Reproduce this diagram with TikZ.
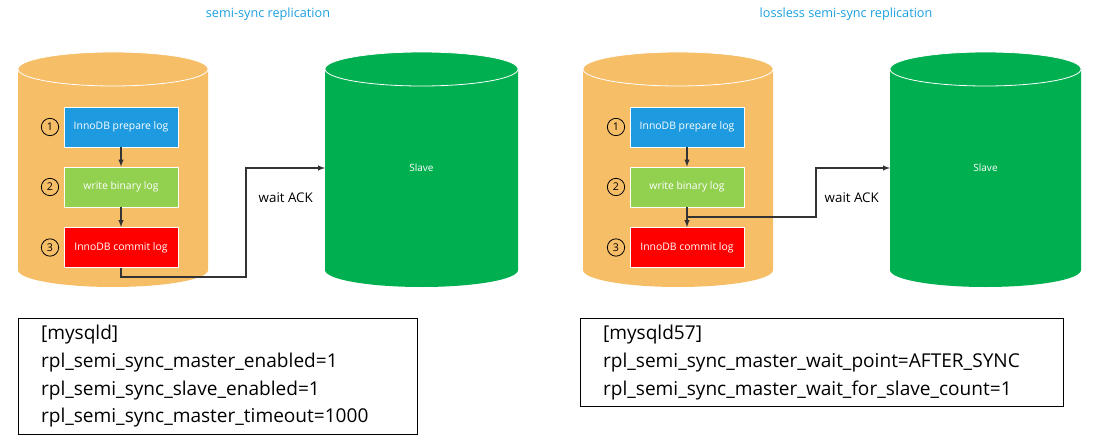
\documentclass[tikz,border=0pt]{standalone}
\usepackage{fontspec}
\setmainfont{Open Sans}
\definecolor{org}{HTML}{F7BE68}
\definecolor{grn}{HTML}{00B050}
\definecolor{blu}{HTML}{1E9BE0}
\definecolor{lgr}{HTML}{92D050}
\definecolor{ttl}{HTML}{1AA0E0}
\begin{document}
\begin{tikzpicture}[x=0.75pt,y=-0.75pt,
  box/.style={draw=white,line width=0.6pt,minimum width=85.5pt,minimum height=30pt,text=white,font=\fontsize{7.8}{9}\selectfont,inner sep=0pt},
  num/.style={circle,draw=black,line width=0.6pt,minimum size=13pt,inner sep=0pt,font=\fontsize{8}{9}\selectfont},
  arr/.style={-latex,line width=0.8pt,draw=black!80},
  conf/.style={draw=black,line width=0.6pt,anchor=north west,align=left,font=\fontsize{14.3}{20.8}\selectfont,inner xsep=17pt,inner ysep=5pt}]
\useasboundingbox (0,0) rectangle (1106,435);
\newcommand\cyl[4]{% x1 x2 col name
  \pgfmathsetmacro\cx{(#1+#2)/2}\pgfmathsetmacro\rx{(#2-#1)/2}
  \fill[#3] (#1,69) -- (#1,270) arc[start angle=180,end angle=0,x radius=\rx,y radius=17] -- (#2,69) -- cycle;
  \draw[white,fill=#3,line width=0.6pt] (\cx,69) ellipse[x radius=\rx,y radius=17];
  \coordinate (#4) at (\cx,168);}
\cyl{18}{208}{org}{m1}
\cyl{325}{518}{grn}{s1}
\cyl{583}{773}{org}{m2}
\cyl{890}{1081}{grn}{s2}
\node[text=white,font=\fontsize{7.5}{9}\selectfont] (sl1) at (s1) {Slave};
\node[text=white,font=\fontsize{7.5}{9}\selectfont] (sl2) at (s2) {Slave};
\coordinate (s1w) at (325,168);
\coordinate (s2w) at (890,168);
\node[font=\fontsize{9.5}{11}\selectfont,text=ttl] (t1) at (268,14) {semi-sync replication};
\node[font=\fontsize{9.5}{11}\selectfont,text=ttl] (t2) at (846,14) {lossless semi-sync replication};
\foreach \p/\x in {a/121, b/687}{
  \node[box,fill=blu] (\p1) at (\x,127) {InnoDB prepare log};
  \node[box,fill=lgr] (\p2) at (\x,187) {write binary log};
  \node[box,fill=red] (\p3) at (\x,247.5) {InnoDB commit log};
  \node[num] (\p n1) at (\x-71,127) {1};
  \node[num] (\p n2) at (\x-71,187) {2};
  \node[num] (\p n3) at (\x-71,247.5) {3};
  \draw[arr] (\p1) -- (\p2);
  \draw[arr] (\p2) -- (\p3);
}
\coordinate (c1) at (121,277);
\draw[arr] (a3.south) -- (c1) -| (246,168) -- (s1w);
\coordinate (c2) at (687,217);
\draw[arr] (c2) -- (816,217) |- (s2w);
\node[font=\fontsize{10}{12}\selectfont,anchor=west] (w1) at (254,198) {wait ACK};
\node[font=\fontsize{10}{12}\selectfont,anchor=west] (w2) at (820,198) {wait ACK};
\node[conf,text width=265pt,minimum height=85pt] (k1) at (18,318) {[mysqld]\\rpl\_semi\_sync\_master\_enabled=1\\rpl\_semi\_sync\_slave\_enabled=1\\rpl\_semi\_sync\_master\_timeout=1000};
\node[conf,text width=328pt,minimum height=65pt] (k2) at (580,318) {[mysqld57]\\rpl\_semi\_sync\_master\_wait\_point=AFTER\_SYNC\\rpl\_semi\_sync\_master\_wait\_for\_slave\_count=1};
\end{tikzpicture}
\end{document}
